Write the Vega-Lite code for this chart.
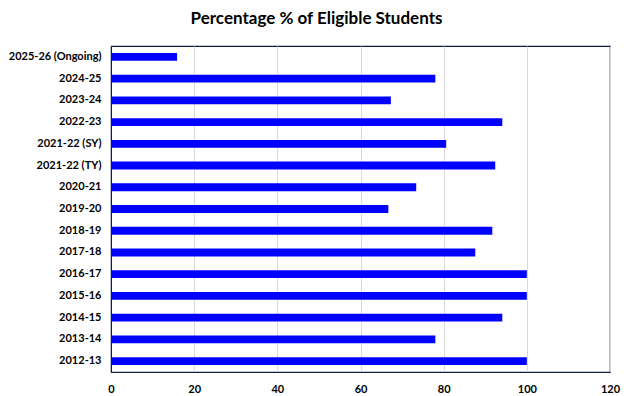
{
  "$schema": "https://vega.github.io/schema/vega-lite/v6.json",
  "autosize": {"type": "none"},
  "padding": {"left": 111, "top": 46, "right": 23, "bottom": 24},
  "width": 499,
  "height": 326,
  "background": "white",
  "title": {
    "text": "Percentage % of Eligible Students",
    "font": "Lato",
    "fontSize": 17,
    "fontWeight": "bold",
    "color": "black",
    "anchor": "middle",
    "dx": -44,
    "offset": 18
  },
  "config": {
    "view": {"stroke": "#0d1f4d", "strokeWidth": 1.2},
    "axis": {"labelFont": "Lato", "labelFontSize": 11, "labelFontWeight": "bold", "labelColor": "black"}
  },
  "data": {
    "values": [
      {"year": "2025-26 (Ongoing)", "pct": 15.9},
      {"year": "2024-25", "pct": 78},
      {"year": "2023-24", "pct": 67.3},
      {"year": "2022-23", "pct": 94.1},
      {"year": "2021-22 (SY)", "pct": 80.6},
      {"year": "2021-22 (TY)", "pct": 92.4},
      {"year": "2020-21", "pct": 73.4},
      {"year": "2019-20", "pct": 66.7},
      {"year": "2018-19", "pct": 91.7},
      {"year": "2017-18", "pct": 87.6},
      {"year": "2016-17", "pct": 100},
      {"year": "2015-16", "pct": 100},
      {"year": "2014-15", "pct": 94.1},
      {"year": "2013-14", "pct": 78},
      {"year": "2012-13", "pct": 100}
    ]
  },
  "mark": {"type": "bar", "color": "#0000FF"},
  "encoding": {
    "y": {
      "field": "year",
      "type": "nominal",
      "sort": null,
      "scale": {"paddingInner": 0.64, "paddingOuter": 0.32},
      "axis": {"title": null, "ticks": false, "domain": true, "domainColor": "#0d1f4d", "labelPadding": 10, "grid": false}
    },
    "x": {
      "field": "pct",
      "type": "quantitative",
      "scale": {"domain": [0, 120], "nice": false},
      "axis": {
        "title": null,
        "values": [0, 20, 40, 60, 80, 100, 120],
        "ticks": false,
        "domain": true,
        "domainColor": "#0d1f4d",
        "grid": true,
        "gridColor": "#d9d9d9",
        "labelFlush": false,
        "labelPadding": 11
      }
    }
  }
}
